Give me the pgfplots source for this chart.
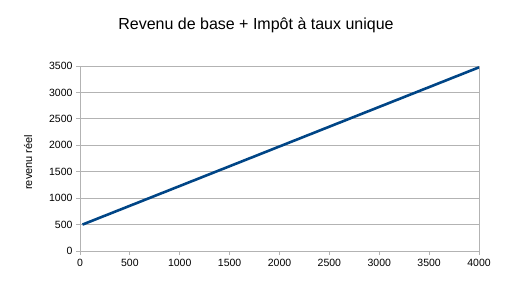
\documentclass[border=0pt]{standalone}
\usepackage{pgfplots}
\pgfplotsset{compat=1.18}
\usepackage{fontspec}
\setmainfont{Liberation Sans}
\definecolor{gridgray}{HTML}{B3B3B3}
\definecolor{lineblue}{HTML}{004586}
\begin{document}
\begin{tikzpicture}
\begin{axis}[
  scale only axis,
  width=399pt, height=185pt,
  xmin=0, xmax=4000, ymin=0, ymax=3500,
  xtick={0,500,...,4000}, ytick={0,500,...,3500},
  ymajorgrids, grid style={gridgray, line width=0.8pt},
  axis line style={gridgray, line width=0.8pt},
  tick style={gridgray, line width=0.8pt},
  tick align=outside, major tick length=4pt,
  xtick pos=bottom, ytick pos=left,
  /pgf/number format/assume math mode=true,
  /pgf/number format/set thousands separator={},
  ticklabel style={font=\fontsize{10.5}{12}\selectfont, text=black},
  xticklabel style={yshift=-1pt},
  ylabel={revenu réel}, ylabel style={font=\fontsize{11}{13}\selectfont, at={(axis description cs:-0.13,0.48)}, anchor=center, rotate=0},
  title={Revenu de base + Impôt à taux unique},
  title style={font=\fontsize{16}{19}\selectfont, at={(axis description cs:0.441,1)}, anchor=center, yshift=35pt},
]
\addplot[lineblue, line width=2.6pt] coordinates {(25,500) (4000,3475)};
\end{axis}
\useasboundingbox ([xshift=-80pt,yshift=-47pt]current axis.south west) rectangle ([xshift=433pt,yshift=251pt]current axis.south west);
\end{tikzpicture}
\end{document}
